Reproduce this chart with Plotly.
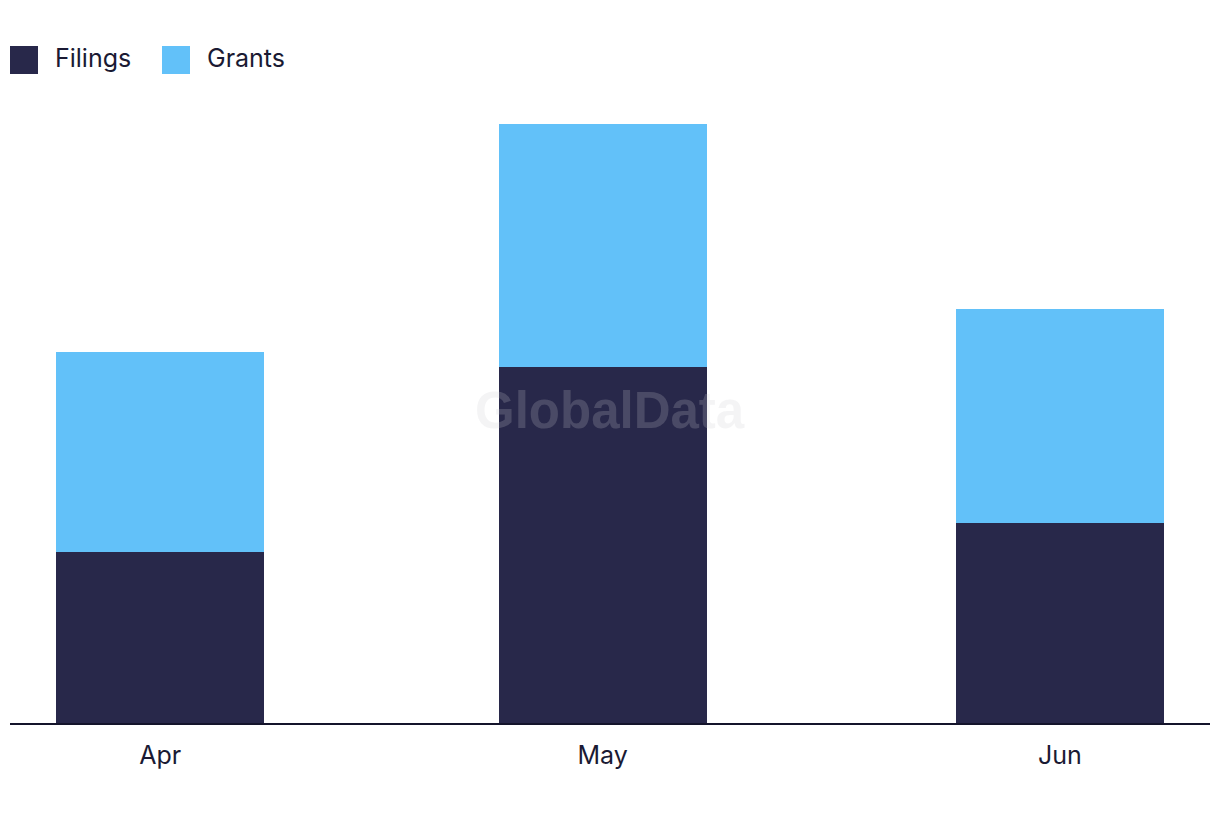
import plotly.graph_objects as go

months = ["2024-04-01", "2024-05-01", "2024-06-01"]
month_labels = ["Apr", "May", "Jun"]
filings = [12, 25, 14]
grants = [14, 17, 15]

NAVY = "#28284a"
SKY = "#62c1f9"
FONT = "Inter, Roboto, 'Noto Sans', sans-serif"

bar_width_ms = 14.1 * 86400000

fig = go.Figure()
fig.add_trace(go.Bar(x=months, y=filings, name="Filings", marker_color=NAVY,
                     marker_line_width=0, width=bar_width_ms, showlegend=False))
fig.add_trace(go.Bar(x=months, y=grants, name="Grants", marker_color=SKY,
                     marker_line_width=0, width=bar_width_ms, showlegend=False))

fig.update_layout(
    barmode="stack",
    width=1220, height=822,
    margin=dict(l=10, r=10, t=100, b=99),
    paper_bgcolor="white", plot_bgcolor="white",
    font=dict(family=FONT, size=25, color="#1a1a33"),
    xaxis=dict(type="date", range=["2024-03-21 19:40", "2024-06-11 04:20"],
               tickvals=months, ticktext=month_labels,
               showgrid=False, zeroline=False,
               showline=True, linecolor="#14142b", linewidth=2,
               ticks="outside", ticklen=9, tickcolor="rgba(0,0,0,0)",
               tickfont=dict(size=25, color="#1a1a33")),
    yaxis=dict(range=[0, 43.69], showgrid=False, zeroline=False,
               showticklabels=False, showline=False),
)

# custom legend
legend_items = [("Filings", NAVY, 10), ("Grants", SKY, 162)]
for name, color, x0 in legend_items:
    fig.add_shape(type="rect", xref="paper", yref="paper",
                  x0=(x0 - 10) / 1200, x1=(x0 + 28 - 10) / 1200,
                  y0=(723 - 74) / 623, y1=(723 - 46) / 623,
                  fillcolor=color, line_width=0)
    fig.add_annotation(text=name, xref="paper", yref="paper",
                       x=(x0 + 43 - 10) / 1200, y=(723 - 58) / 623,
                       xanchor="left", yanchor="middle", showarrow=False,
                       font=dict(size=25, color="#1a1a33"))

# watermark
fig.add_annotation(text="<b>GlobalData</b>", xref="paper", yref="paper",
                   x=(610 - 10) / 1200, y=(723 - 411) / 623,
                   xanchor="center", yanchor="middle", showarrow=False,
                   font=dict(size=51, color="rgba(203,203,208,0.21)",
                             family="Liberation Sans, Arial, sans-serif"))

fig.write_html("out.html")
